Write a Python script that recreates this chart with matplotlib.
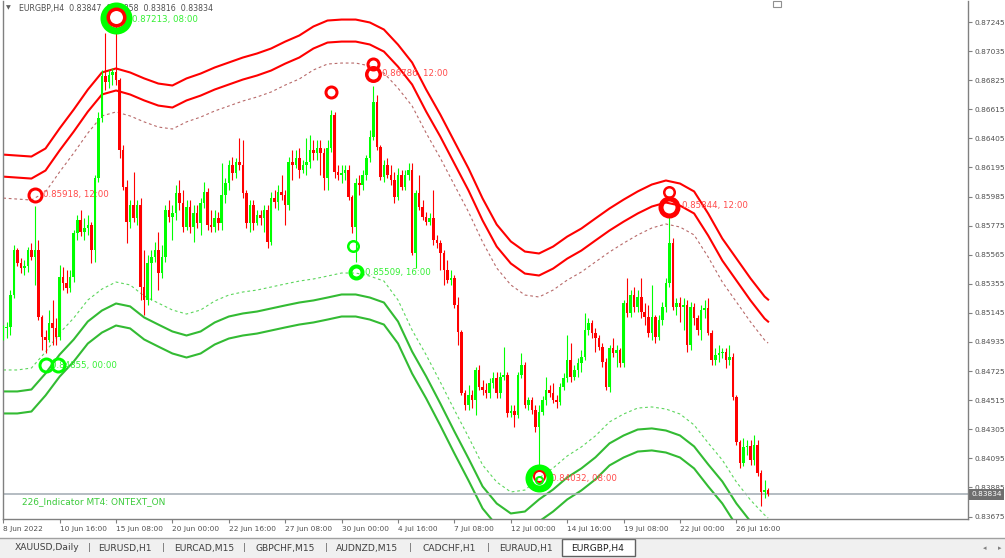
import matplotlib
matplotlib.use("Agg")
import matplotlib.pyplot as plt
from matplotlib.patches import Rectangle
from matplotlib.transforms import offset_copy

# ---------------------------------------------------------------------------
# EURGBP H4 candles, bar 0 = 8 Jun 2022 00:00
# ---------------------------------------------------------------------------
first_open = 0.84986
closes = [
    0.85036, 0.85043, 0.85274, 0.85599, 0.85505, 0.85469, 0.85484, 0.85599, 0.85548, 0.85599,
    0.85115, 0.84970, 0.84949, 0.85072, 0.85036, 0.84970, 0.85404, 0.85360, 0.85324, 0.85404,
    0.85721, 0.85816, 0.85729, 0.85758, 0.85780, 0.85599, 0.86119, 0.86552, 0.86856, 0.86812,
    0.86863, 0.86885, 0.86826, 0.86321, 0.86053, 0.85802, 0.85924, 0.85830, 0.85924, 0.85331,
    0.85238, 0.85505, 0.85548, 0.85599, 0.85433, 0.85548, 0.85888, 0.85837, 0.85866, 0.86010,
    0.85938, 0.85765, 0.85909, 0.85765, 0.85866, 0.85794, 0.85938, 0.86018, 0.85780, 0.85765,
    0.85830, 0.85794, 0.85996, 0.86082, 0.86213, 0.86155, 0.86235, 0.86213, 0.86010, 0.85794,
    0.85924, 0.85794, 0.85852, 0.85830, 0.85888, 0.85657, 0.85974, 0.85946, 0.86018, 0.85996,
    0.85924, 0.86235, 0.86213, 0.86263, 0.86177, 0.86213, 0.86235, 0.86321, 0.86299, 0.86335,
    0.86299, 0.86119, 0.86335, 0.86574, 0.86163, 0.86141, 0.86155, 0.86177, 0.85981, 0.85765,
    0.86082, 0.86068, 0.86141, 0.86263, 0.86414, 0.86668, 0.86342, 0.86126, 0.86213, 0.86141,
    0.86104, 0.85981, 0.86141, 0.86053, 0.86141, 0.86177, 0.85577, 0.86010, 0.85909, 0.85837,
    0.85802, 0.85830, 0.85671, 0.85649, 0.85577, 0.85455, 0.85382, 0.85397, 0.85202, 0.85007,
    0.84566, 0.84480, 0.84552, 0.84516, 0.84733, 0.84609, 0.84588, 0.84566, 0.84638, 0.84675,
    0.84566, 0.84682, 0.84697, 0.84422, 0.84437, 0.84408, 0.84697, 0.84769, 0.84480, 0.84516,
    0.84444, 0.84321, 0.84430, 0.84516, 0.84588, 0.84566, 0.84516, 0.84502, 0.84609, 0.84675,
    0.84805, 0.84682, 0.84733, 0.84783, 0.84826, 0.85021, 0.85072, 0.84999, 0.84963, 0.84898,
    0.84791, 0.84609, 0.84891, 0.84855, 0.84877, 0.84783, 0.85216, 0.85144, 0.85274, 0.85187,
    0.85259, 0.85152, 0.85115, 0.84999, 0.85115, 0.84970, 0.85094, 0.85187, 0.85360, 0.85649,
    0.85187, 0.85216, 0.85187, 0.85202, 0.84913, 0.85187, 0.85108, 0.85021, 0.85166, 0.85180,
    0.84999, 0.84805, 0.84841, 0.84855, 0.84863, 0.84805, 0.84826, 0.84537, 0.84213, 0.84061,
    0.84176, 0.84184, 0.84083, 0.84191, 0.83989, 0.83852, 0.83866, 0.83834,
]
highs = [
    0.85058, 0.85080, 0.85310, 0.85635, 0.85613, 0.85541, 0.85527, 0.85620, 0.85649, 0.85918,
    0.85671, 0.85130, 0.85021, 0.85166, 0.85238, 0.85108, 0.85491, 0.85477, 0.85455, 0.85455,
    0.85743, 0.85852, 0.85888, 0.85830, 0.85852, 0.85802, 0.86141, 0.86596, 0.86899, 0.87165,
    0.86899, 0.86913, 0.87213, 0.86841, 0.86357, 0.86104, 0.85960, 0.86163, 0.85960, 0.85974,
    0.85599, 0.85563, 0.85599, 0.85657, 0.85729, 0.85635, 0.85924, 0.85960, 0.85924, 0.86068,
    0.86104, 0.86032, 0.85960, 0.85960, 0.85924, 0.85924, 0.85974, 0.86090, 0.86046, 0.85888,
    0.85888, 0.85874, 0.86227, 0.86119, 0.86249, 0.86270, 0.86263, 0.86407, 0.86393, 0.86032,
    0.85960, 0.85960, 0.85888, 0.85888, 0.85924, 0.85924, 0.86018, 0.86032, 0.86068, 0.86141,
    0.86032, 0.86270, 0.86321, 0.86321, 0.86335, 0.86249, 0.86407, 0.86429, 0.86393, 0.86393,
    0.86393, 0.86335, 0.86393, 0.86610, 0.86596, 0.86213, 0.86213, 0.86213, 0.86213, 0.85996,
    0.86119, 0.86141, 0.86177, 0.86285, 0.86465, 0.86786, 0.86718, 0.86357, 0.86249, 0.86263,
    0.86213, 0.86163, 0.86191, 0.86177, 0.86177, 0.86227, 0.86227, 0.86032, 0.86141, 0.85960,
    0.85874, 0.85866, 0.86032, 0.85708, 0.85671, 0.85599, 0.85527, 0.85455, 0.85419, 0.85260,
    0.85021, 0.84588, 0.84625, 0.84588, 0.84754, 0.84769, 0.84660, 0.84638, 0.84675, 0.84718,
    0.84718, 0.84718, 0.84899, 0.84718, 0.84480, 0.84480, 0.84718, 0.84855, 0.84790, 0.84538,
    0.84538, 0.84480, 0.84480, 0.84545, 0.84682, 0.84625, 0.84638, 0.84553, 0.84638, 0.84711,
    0.84986, 0.84927, 0.84769, 0.84819, 0.84877, 0.85144, 0.85108, 0.85094, 0.85036, 0.84986,
    0.84927, 0.84819, 0.84913, 0.84963, 0.84913, 0.84891, 0.85238, 0.85397, 0.85310, 0.85331,
    0.85310, 0.85397, 0.85216, 0.85202, 0.85347, 0.85130, 0.85130, 0.85224, 0.85397, 0.85844,
    0.85686, 0.85252, 0.85260, 0.85252, 0.85238, 0.85224, 0.85216, 0.85130, 0.85202, 0.85238,
    0.85252, 0.85021, 0.84891, 0.84913, 0.84891, 0.84891, 0.84913, 0.84855, 0.84553, 0.84227,
    0.84242, 0.84227, 0.84227, 0.84264, 0.84227, 0.84011, 0.83938, 0.83880,
]
lows = [
    0.84949, 0.84963, 0.84986, 0.85252, 0.85484, 0.85433, 0.85419, 0.85441, 0.85527, 0.85347,
    0.85094, 0.84877, 0.84855, 0.84935, 0.84913, 0.84913, 0.84949, 0.85310, 0.85288, 0.85296,
    0.85368, 0.85671, 0.85700, 0.85671, 0.85708, 0.85505, 0.85513, 0.86090, 0.86523, 0.86754,
    0.86768, 0.86790, 0.86790, 0.86263, 0.86032, 0.85649, 0.85758, 0.85802, 0.85780, 0.85238,
    0.85130, 0.85202, 0.85238, 0.85513, 0.85310, 0.85397, 0.85513, 0.85802, 0.85671, 0.85816,
    0.85888, 0.85729, 0.85743, 0.85721, 0.85657, 0.85758, 0.85708, 0.85902, 0.85743, 0.85729,
    0.85729, 0.85743, 0.85743, 0.85938, 0.86032, 0.86104, 0.86119, 0.86177, 0.85974, 0.85758,
    0.85729, 0.85743, 0.85780, 0.85780, 0.85729, 0.85613, 0.85635, 0.85902, 0.85888, 0.85960,
    0.85780, 0.85888, 0.86104, 0.86191, 0.86119, 0.86155, 0.86141, 0.86191, 0.86249, 0.86249,
    0.86141, 0.86032, 0.86032, 0.86307, 0.86119, 0.86104, 0.86082, 0.86104, 0.85960, 0.85721,
    0.85509, 0.85996, 0.86032, 0.86104, 0.86235, 0.86393, 0.86321, 0.86104, 0.86090, 0.86119,
    0.86068, 0.85938, 0.85960, 0.86032, 0.86032, 0.86104, 0.85563, 0.85469, 0.85888, 0.85816,
    0.85780, 0.85780, 0.85635, 0.85613, 0.85455, 0.85347, 0.85360, 0.85347, 0.85180, 0.84913,
    0.84552, 0.84444, 0.84444, 0.84458, 0.84408, 0.84588, 0.84552, 0.84530, 0.84530, 0.84603,
    0.84530, 0.84530, 0.84660, 0.84393, 0.84393, 0.84321, 0.84386, 0.84675, 0.84458, 0.84444,
    0.84415, 0.84285, 0.84032, 0.84408, 0.84480, 0.84538, 0.84495, 0.84458, 0.84480, 0.84588,
    0.84646, 0.84646, 0.84660, 0.84682, 0.84718, 0.84805, 0.84986, 0.84963, 0.84863, 0.84877,
    0.84754, 0.84588, 0.84574, 0.84826, 0.84754, 0.84754, 0.84754, 0.85115, 0.85115, 0.85152,
    0.85152, 0.85108, 0.85058, 0.84970, 0.84949, 0.84927, 0.84949, 0.85058, 0.85152, 0.85331,
    0.85166, 0.85130, 0.85080, 0.85021, 0.84863, 0.84877, 0.85058, 0.84986, 0.84949, 0.85108,
    0.84986, 0.84769, 0.84769, 0.84790, 0.84819, 0.84747, 0.84769, 0.84516, 0.84191, 0.84025,
    0.84040, 0.84120, 0.84047, 0.84047, 0.83968, 0.83751, 0.83808, 0.83823,
]

# band centre lines (dotted), sampled every 4 bars
band_bars = [0, 4, 8, 12, 16, 20, 24, 28, 32, 36, 40, 44, 48, 52, 56, 60, 64, 68, 72, 76,
             80, 84, 88, 92, 96, 100, 104, 108, 112, 116, 120, 124, 128, 132, 136, 140,
             144, 148, 152, 156, 160, 164, 168, 172, 176, 180, 184, 188, 192, 196, 200,
             204, 208, 212, 216, 217]
upper_mid = [
    0.85974, 0.85967, 0.85960, 0.86018, 0.86163, 0.86299, 0.86443, 0.86567, 0.86596, 0.86567,
    0.86524, 0.86487, 0.86473, 0.86524, 0.86559, 0.86603, 0.86639, 0.86675, 0.86704, 0.86740,
    0.86790, 0.86834, 0.86899, 0.86942, 0.86949, 0.86949, 0.86928, 0.86877, 0.86768, 0.86639,
    0.86443, 0.86263, 0.86068, 0.85874, 0.85657, 0.85469, 0.85347, 0.85274, 0.85260, 0.85310,
    0.85382, 0.85440, 0.85513, 0.85585, 0.85649, 0.85708, 0.85758, 0.85787, 0.85765, 0.85708,
    0.85548, 0.85368, 0.85224, 0.85080, 0.84949, 0.84927,
]
lower_mid = [
    0.84733, 0.84733, 0.84747, 0.84863, 0.84999, 0.85108, 0.85238, 0.85317, 0.85368, 0.85347,
    0.85267, 0.85216, 0.85166, 0.85137, 0.85166, 0.85231, 0.85274, 0.85296, 0.85310, 0.85332,
    0.85354, 0.85375, 0.85390, 0.85411, 0.85433, 0.85433, 0.85411, 0.85375, 0.85238, 0.85021,
    0.84841, 0.84646, 0.84444, 0.84249, 0.84047, 0.83924, 0.83852, 0.83866, 0.83953, 0.84025,
    0.84112, 0.84177, 0.84257, 0.84358, 0.84415, 0.84458, 0.84466, 0.84451, 0.84415, 0.84336,
    0.84206, 0.84083, 0.83924, 0.83794, 0.83686, 0.83664,
]
inner_offset = 0.00155
outer_offset = 0.00314

# swing points with labels
swing_bars = [9, 32, 12, 105, 100, 152, 189]
swing_prices = [0.85918, 0.87213, 0.84855, 0.86786, 0.85509, 0.84032, 0.85844]
swing_times = ["12:00", "08:00", "00:00", "12:00", "16:00", "08:00", "12:00"]

price_ticks = [0.87245, 0.87035, 0.86825, 0.86615, 0.86405, 0.86195, 0.85985, 0.85775,
               0.85565, 0.85355, 0.85145, 0.84935, 0.84725, 0.84515, 0.84305, 0.84095,
               0.83885, 0.83675]
date_bars = [0, 16, 32, 48, 64, 80, 96, 112, 128, 144, 160, 176, 192, 208]
date_labels = ["8 Jun 2022", "10 Jun 16:00", "15 Jun 08:00", "20 Jun 00:00", "22 Jun 16:00",
               "27 Jun 08:00", "30 Jun 00:00", "4 Jul 16:00", "7 Jul 08:00", "12 Jul 00:00",
               "14 Jul 16:00", "19 Jul 08:00", "22 Jul 00:00", "26 Jul 16:00"]
bid = 0.83834
tabs = ["XAUUSD,Daily", "EURUSD,H1", "EURCAD,M15", "GBPCHF,M15", "AUDNZD,M15",
        "CADCHF,H1", "EURAUD,H1", "EURGBP,H4"]

BULL = "#00FF00"
BEAR = "#FF0000"
LIME = "#00FF00"
RED_LBL = "#FF4A4A"
GRN_LBL = "#33F033"
AX_TXT = "#505050"

W, H = 1005, 558
fig = plt.figure(figsize=(W / 100, H / 100), dpi=100)
fig.patch.set_facecolor("white")


def fx(px):
    return px / W


def fy(py):
    return 1 - py / H


ax = fig.add_axes([fx(3), fy(519), (968 - 3) / W, (519 - 1) / H])
ax.set_xlim(-0.06, -0.06 + 965 / 3.525)
ax.set_ylim(0.83657, 0.87397)
ax.set_facecolor("white")

# --- bands ---
up_outer = [v + outer_offset for v in upper_mid]
up_inner = [v + inner_offset for v in upper_mid]
lo_inner = [v - inner_offset for v in lower_mid]
lo_outer = [v - outer_offset for v in lower_mid]
ax.plot(band_bars, up_outer, color="#FF0000", lw=1.5, zorder=2)
ax.plot(band_bars, up_inner, color="#FF0000", lw=1.5, zorder=2)
ax.plot(band_bars, upper_mid, color="#B86A6A", lw=0.8, ls=(0, (2.5, 2.5)), zorder=2)
ax.plot(band_bars, lower_mid, color="#5CD65C", lw=0.8, ls=(0, (2.5, 2.5)), zorder=2)
ax.plot(band_bars, lo_inner, color="#33BB33", lw=1.5, zorder=2)
ax.plot(band_bars, lo_outer, color="#33BB33", lw=1.5, zorder=2)

# --- candles ---
opens = [first_open] + closes[:-1]
xs = list(range(len(closes)))
cols = [BULL if c >= o else BEAR for o, c in zip(opens, closes)]
tops = [max(h, o, c) for h, o, c in zip(highs, opens, closes)]
bots = [min(l, o, c) for l, o, c in zip(lows, opens, closes)]
ax.vlines(xs, bots, tops, colors=cols, lw=0.8, zorder=3)
body_h = [max(abs(c - o), 0.00006) for o, c in zip(opens, closes)]
body_b = [min(o, c) for o, c in zip(opens, closes)]
ax.bar(xs, body_h, bottom=body_b, width=0.72, color=cols, lw=0, zorder=3)

# --- bid line ---
ax.axhline(bid, color="#A8B0B8", lw=1.2, zorder=2.5)


# --- swing markers ---
def ring(bar, price, dy, r, w, color, dx=0):
    tr = offset_copy(ax.transData, fig=fig, x=dx, y=dy, units="dots")
    ax.plot([bar], [price], marker="o", ms=2 * (r - w / 2) * 0.72, mfc="none",
            mec=color, mew=w * 0.72, transform=tr, zorder=5, clip_on=False)


sw = dict(zip(swing_bars, swing_prices))
ring(9, sw[9], 11, 8, 3, BEAR)
ring(32, sw[32], 8, 16, 7, LIME)
ring(32, sw[32], 9, 10, 3.5, BEAR)
ring(12, sw[12], -12, 8, 3, LIME)
ring(12, sw[12], -12, 8, 3, LIME, dx=12)
ring(93, highs[93], 18, 7, 3, BEAR)
ring(105, sw[105], 22, 7, 3, BEAR)
ring(105, sw[105], 12, 8.5, 3.5, BEAR)
ring(100, sw[100], 16, 6.5, 2.5, LIME, dx=-2.5)
ring(100, sw[100], -10, 8, 4, LIME)
ring(152, sw[152], -11, 14, 7, LIME)
ring(152, sw[152], -9, 6.5, 2, BEAR)
ring(152, sw[152], -13, 4.5, 2, LIME)
ring(189, sw[189], 24, 6.5, 2.5, BEAR)
ring(189, sw[189], 9, 11, 5, BEAR)

label_style = {
    9: (8, 11, RED_LBL), 32: (16, 7, GRN_LBL), 12: (5.5, -12, GRN_LBL),
    105: (9, 12, RED_LBL), 100: (9, -10, GRN_LBL), 152: (12, -11, RED_LBL),
    189: (12.5, 11, RED_LBL),
}
for b, p, t in zip(swing_bars, swing_prices, swing_times):
    dx, dy, col = label_style[b]
    ax.annotate(f"{p:.5f}, {t}", xy=(b, p), xytext=(dx, dy), textcoords="offset pixels",
                ha="left", va="center", fontsize=6.2, color=col, zorder=4,
                annotation_clip=False)

# --- header and indicator caption ---
ax.annotate("EURGBP,H4  0.83847  0.83858  0.83816  0.83834", xy=(19, H - 8),
            xycoords="figure pixels", ha="left", va="center", fontsize=5.7,
            color=AX_TXT, zorder=4)
ax.annotate("\u25BC", xy=(6, H - 8), xycoords="figure pixels", ha="left", va="center",
            fontsize=4.5, color="#606060", zorder=4)
ax.annotate("226_Indicator MT4: ONTEXT_ON", xy=(22, H - 502), xycoords="figure pixels",
            ha="left", va="center", fontsize=6.5, color="#3CCB3C", zorder=4)
fig.patches.append(Rectangle((fx(773), fy(7)), fx(8), 6 / H, transform=fig.transFigure,
                             fc="white", ec="#909090", lw=0.8, zorder=3))

# --- axes styling ---
for side in ["left", "right", "bottom"]:
    ax.spines[side].set_color("#808080")
    ax.spines[side].set_linewidth(1)
ax.spines["top"].set_visible(False)

ax.yaxis.tick_right()
ax.set_yticks(price_ticks)
ax.set_yticklabels([f"{v:.5f}" for v in price_ticks])
ax.tick_params(axis="y", length=3, width=0.8, color="#808080", pad=2,
               labelsize=5.3, labelcolor=AX_TXT)
ax.set_xticks(date_bars)
ax.set_xticklabels(date_labels)
for lbl in ax.get_xticklabels():
    lbl.set_ha("left")
ax.tick_params(axis="x", length=3, width=0.8, color="#808080", pad=2,
               labelsize=5.3, labelcolor=AX_TXT)

ax.annotate(f"{bid:.5f}", xy=(1, bid), xycoords=("axes fraction", "data"),
            xytext=(3, 0), textcoords="offset pixels", ha="left", va="center",
            fontsize=5.3, color="white", zorder=6, annotation_clip=False,
            bbox=dict(boxstyle="square,pad=0.3", fc="#6E6E6E", ec="none"))

# --- tab bar ---
fig.patches.append(Rectangle((0, 0), 1, fy(538), transform=fig.transFigure,
                             fc="#F0F0F0", ec="none", zorder=0))
fig.add_artist(plt.Line2D([0, 1], [fy(538), fy(538)], transform=fig.transFigure,
                          color="#A0A0A0", lw=1))
fig.patches.append(Rectangle((fx(562), fy(556)), fx(635) - fx(562), fy(539) - fy(556),
                             transform=fig.transFigure, fc="white", ec="#606060",
                             lw=1, zorder=1))
tab_centres = [47, 125, 204, 285, 367, 449, 526, 598]
for name, cx in zip(tabs, tab_centres):
    fig.text(fx(cx), fy(548), name, ha="center", va="center", fontsize=6.6,
             color="#202020" if name == "EURGBP,H4" else "#404040")
for sx in [89, 163, 244, 326, 410, 488]:
    fig.text(fx(sx), fy(548), "|", ha="center", va="center", fontsize=6.6, color="#606060")
fig.text(fx(985), fy(548), "\u25C2", ha="center", va="center", fontsize=5, color="#808080")
fig.text(fx(1000), fy(548), "\u25B8", ha="center", va="center", fontsize=5, color="#808080")

fig.savefig("out.png", dpi=100)
